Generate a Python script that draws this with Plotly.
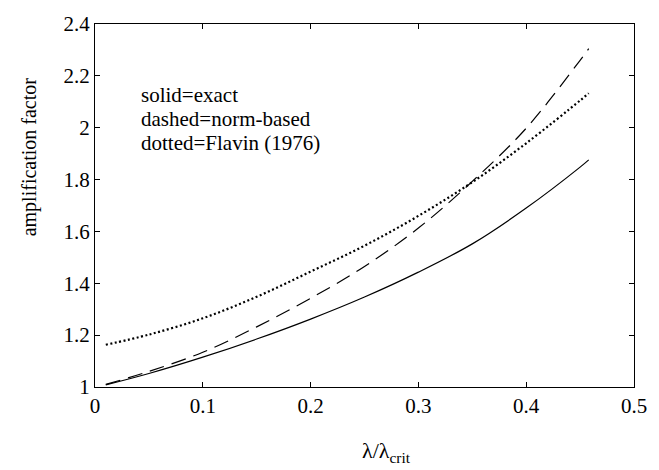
import plotly.graph_objects as go

x_vals = [0.01, 0.05, 0.10, 0.15, 0.20, 0.25, 0.30, 0.35, 0.40, 0.45, 0.458]
exact = [1.008, 1.052, 1.115, 1.185, 1.262, 1.347, 1.443, 1.552, 1.690, 1.848, 1.876]
norm_based = [1.010, 1.060, 1.134, 1.232, 1.342, 1.465, 1.613, 1.793, 1.998, 2.260, 2.305]
flavin = [1.163, 1.202, 1.265, 1.348, 1.445, 1.545, 1.660, 1.790, 1.940, 2.105, 2.133]

x_ticks = [0, 0.1, 0.2, 0.3, 0.4, 0.5]
y_ticks = [1, 1.2, 1.4, 1.6, 1.8, 2, 2.2, 2.4]
legend_lines = ["solid=exact", "dashed=norm-based", "dotted=Flavin (1976)"]
legend_y = [2.127, 2.032, 1.941]

FONT = "Liberation Serif, Times New Roman, DejaVu Serif, serif"

fig = go.Figure()
fig.add_trace(go.Scatter(x=x_vals, y=exact, mode="lines",
                         line=dict(color="black", width=1.2, shape="spline")))
fig.add_trace(go.Scatter(x=x_vals, y=norm_based, mode="lines",
                         line=dict(color="black", width=1.2, dash="15px,8px", shape="spline")))
fig.add_trace(go.Scatter(x=x_vals, y=flavin, mode="lines",
                         line=dict(color="black", width=2.2, dash="2px,2.5px", shape="spline")))

for t, yy in zip(legend_lines, legend_y):
    fig.add_annotation(x=0.041, y=yy, xref="x", yref="y", text=t,
                       showarrow=False, xanchor="left", yanchor="middle",
                       font=dict(family=FONT, size=21, color="black"))

# axis titles
fig.add_annotation(x=-0.1216, y=0.634, xref="paper", yref="paper",
                   text="amplification factor", textangle=-90, showarrow=False,
                   xanchor="center", yanchor="middle",
                   font=dict(family=FONT, size=20, color="black"))
fig.add_annotation(x=0.492, y=-0.18, xref="paper", yref="paper",
                   text="λ/λ<sub>crit</sub>", showarrow=False,
                   xanchor="left", yanchor="middle",
                   font=dict(family=FONT, size=22, color="black"))

axis_common = dict(showline=True, linecolor="black", linewidth=1, mirror="ticks",
                   ticks="inside", ticklen=5, tickcolor="black", showgrid=False,
                   zeroline=False, ticklabeloverflow="allow",
                   tickfont=dict(family=FONT, size=21, color="black"))

fig.update_xaxes(range=[0, 0.5], tickvals=x_ticks, ticktext=[f"{v:g}" for v in x_ticks],
                 **axis_common)
fig.update_yaxes(range=[1, 2.4], tickvals=y_ticks, ticktext=[f"{v:g}" for v in y_ticks],
                 **axis_common)

fig.update_layout(width=659, height=470, showlegend=False,
                  font=dict(family=FONT, color="black"),
                  margin=dict(l=95, r=13, t=18, b=83),
                  plot_bgcolor="white", paper_bgcolor="white")

fig.write_html("out.html", config={"displayModeBar": False},
               post_script="document.body.style.margin='0';document.body.style.overflow='hidden';")
